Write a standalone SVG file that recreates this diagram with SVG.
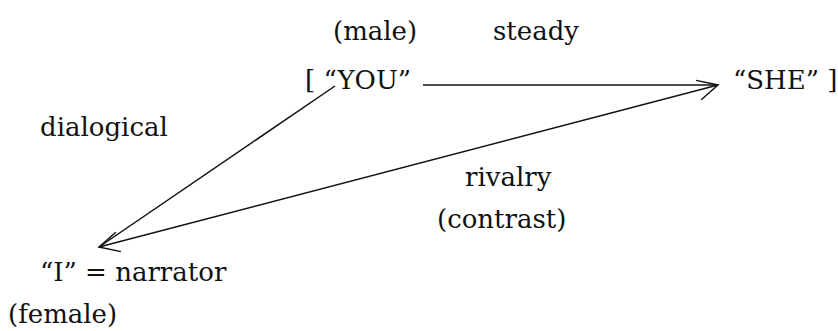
<svg xmlns="http://www.w3.org/2000/svg" width="838" height="331" viewBox="0 0 838 331">
<style>
.t{font-family:"DejaVu Serif","Liberation Serif",serif;font-size:26px;fill:#111}
.c{stroke:#111;stroke-width:1.5;fill:none}
</style>
<defs>
<marker id="ah" markerUnits="userSpaceOnUse" markerWidth="30" markerHeight="30" refX="0" refY="0" viewBox="-25 -15 30 30" orient="auto-start-reverse">
<path d="M-20,-10 L0,0 L-20,10" fill="none" stroke="#111" stroke-width="1.5"/>
</marker>
</defs>
<rect width="838" height="331" fill="#fff"/>
<g id="connectors">
<line class="c" x1="423" y1="85" x2="717" y2="85"/>
<line class="c" x1="335" y1="86" x2="99" y2="247"/>
<line class="c" x1="99" y1="247" x2="718" y2="85" marker-start="url(#ah)" marker-end="url(#ah)"/>
</g>
<g id="you"><text class="t" x="305" y="89">[ “YOU”</text></g>
<g id="male"><text class="t" x="333" y="40">(male)</text></g>
<g id="steady"><text class="t" x="493" y="40">steady</text></g>
<g id="she"><text class="t" x="733" y="89">“SHE” ]</text></g>
<g id="dialogical"><text class="t" x="40" y="136">dialogical</text></g>
<g id="rivalry"><text class="t" x="465" y="186">rivalry</text></g>
<g id="contrast"><text class="t" x="437" y="228">(contrast)</text></g>
<g id="narrator"><text class="t" x="40" y="281">“I” = narrator</text></g>
<g id="female"><text class="t" x="8" y="323">(female)</text></g>
</svg>
